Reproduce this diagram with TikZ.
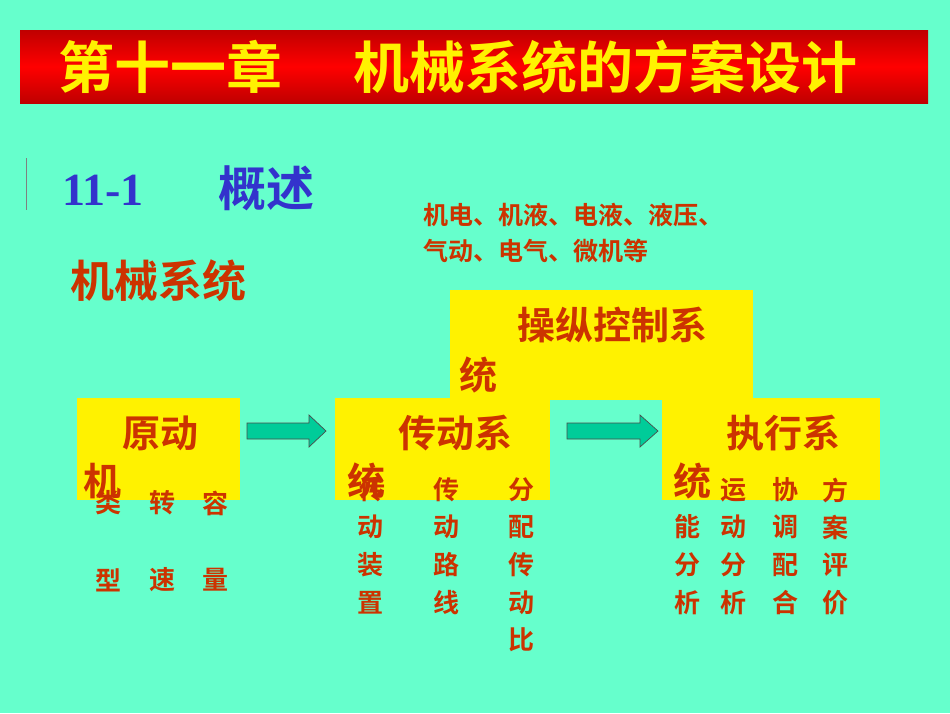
\documentclass[tikz,border=0pt]{standalone}
\usepackage{fontspec}
\newfontfamily\cjk{Noto Sans CJK SC Bold}
\newfontfamily\latinb{Liberation Serif Bold}
\definecolor{bg}{HTML}{66FFCC}
\definecolor{rd}{HTML}{CC3300}
\definecolor{bl}{HTML}{3333CC}
\definecolor{arr}{HTML}{00CC99}
\tikzset{
  ybox/.style={fill=yellow,draw=none},
  big/.style={font=\cjk\fontsize{38}{38}\selectfont,text=rd,inner sep=0pt},
  sm/.style={font=\cjk\fontsize{26}{26}\selectfont,text=rd,inner sep=0pt},
  nt/.style={font=\cjk\fontsize{25}{25}\selectfont,text=rd,inner sep=0pt,anchor=west},
  barr/.style={fill=arr,draw=black!70,line width=0.7pt}
}
\begin{document}
\begin{tikzpicture}[x=1pt,y=-1pt]
\fill[bg] (0,0) rectangle (950,713);
\useasboundingbox (0,0) rectangle (950,713);
\shade[top color=red!75!black,bottom color=red!75!black,middle color=red] (20,30) rectangle (928,103);
\node[font=\cjk\fontsize{56}{56}\selectfont,text=yellow,inner sep=0pt] (t1) at (170,67) {第十一章};
\node[font=\cjk\fontsize{56}{56}\selectfont,text=yellow,inner sep=0pt] (t2) at (605,67) {机械系统的方案设计};
\draw[gray,line width=0.6pt] (26,158) -- (26,210);
\node[font=\latinb\fontsize{46}{46}\selectfont,text=bl,anchor=west,inner sep=0pt] (s1) at (62,190) {11-1};
\node[font=\cjk\fontsize{48}{48}\selectfont,text=bl,anchor=west,inner sep=0pt] (s2) at (218,188) {概述};
\node[font=\cjk\fontsize{44}{44}\selectfont,text=rd,anchor=west,inner sep=0pt] (jx) at (70,281) {机械系统};
\node[nt] (n1) at (423,215) {机电、机液、电液、液压、};
\node[nt] (n2) at (423,251) {气动、电气、微机等};
\fill[ybox] (450,290) rectangle (753,400);
\fill[ybox] (77,398) rectangle (240,500);
\fill[ybox] (335,398) rectangle (550,500);
\fill[ybox] (662,398) rectangle (880,500);
\node[big] (c1) at (612,325) {操纵控制系};
\node[big] (c2) at (478,375) {统};
\node[big] (a1) at (160,433) {原动};
\node[big] (a2) at (102,481) {机};
\node[big] (b1) at (455,433) {传动系};
\node[big] (b2) at (366,481) {统};
\node[big] (d1) at (783,433) {执行系};
\node[big] (d2) at (692,481) {统};
\draw[barr] (247,423) -- (309,423) -- (309,415) -- (326,431) -- (309,447) -- (309,439) -- (247,439) -- cycle;
\draw[barr] (567,423) -- (640,423) -- (640,415) -- (658,431) -- (640,447) -- (640,439) -- (567,439) -- cycle;
% 原动机
\node[sm] at (108,503) {类};\node[sm] at (162,503) {转};\node[sm] at (215,503) {容};
\node[sm] at (108,580) {型};\node[sm] at (162,580) {速};\node[sm] at (215,580) {量};
% 传动
\node[sm] at (372,490) {传};\node[sm] at (446,490) {传};\node[sm] at (521,490) {分};
\node[sm] at (370,527) {动};\node[sm] at (446,527) {动};\node[sm] at (521,527) {配};
\node[sm] at (370,565) {装};\node[sm] at (446,565) {路};\node[sm] at (521,565) {传};
\node[sm] at (370,603) {置};\node[sm] at (446,603) {线};\node[sm] at (521,603) {动};
\node[sm] at (521,640) {比};
% 执行
\node[sm] at (733,490) {运};\node[sm] at (785,490) {协};\node[sm] at (835,490) {方};
\node[sm] at (687,527) {能};\node[sm] at (733,527) {动};\node[sm] at (785,527) {调};\node[sm] at (835,527) {案};
\node[sm] at (687,565) {分};\node[sm] at (733,565) {分};\node[sm] at (785,565) {配};\node[sm] at (835,565) {评};
\node[sm] at (687,603) {析};\node[sm] at (733,603) {析};\node[sm] at (785,603) {合};\node[sm] at (835,603) {价};
\end{tikzpicture}
\end{document}
